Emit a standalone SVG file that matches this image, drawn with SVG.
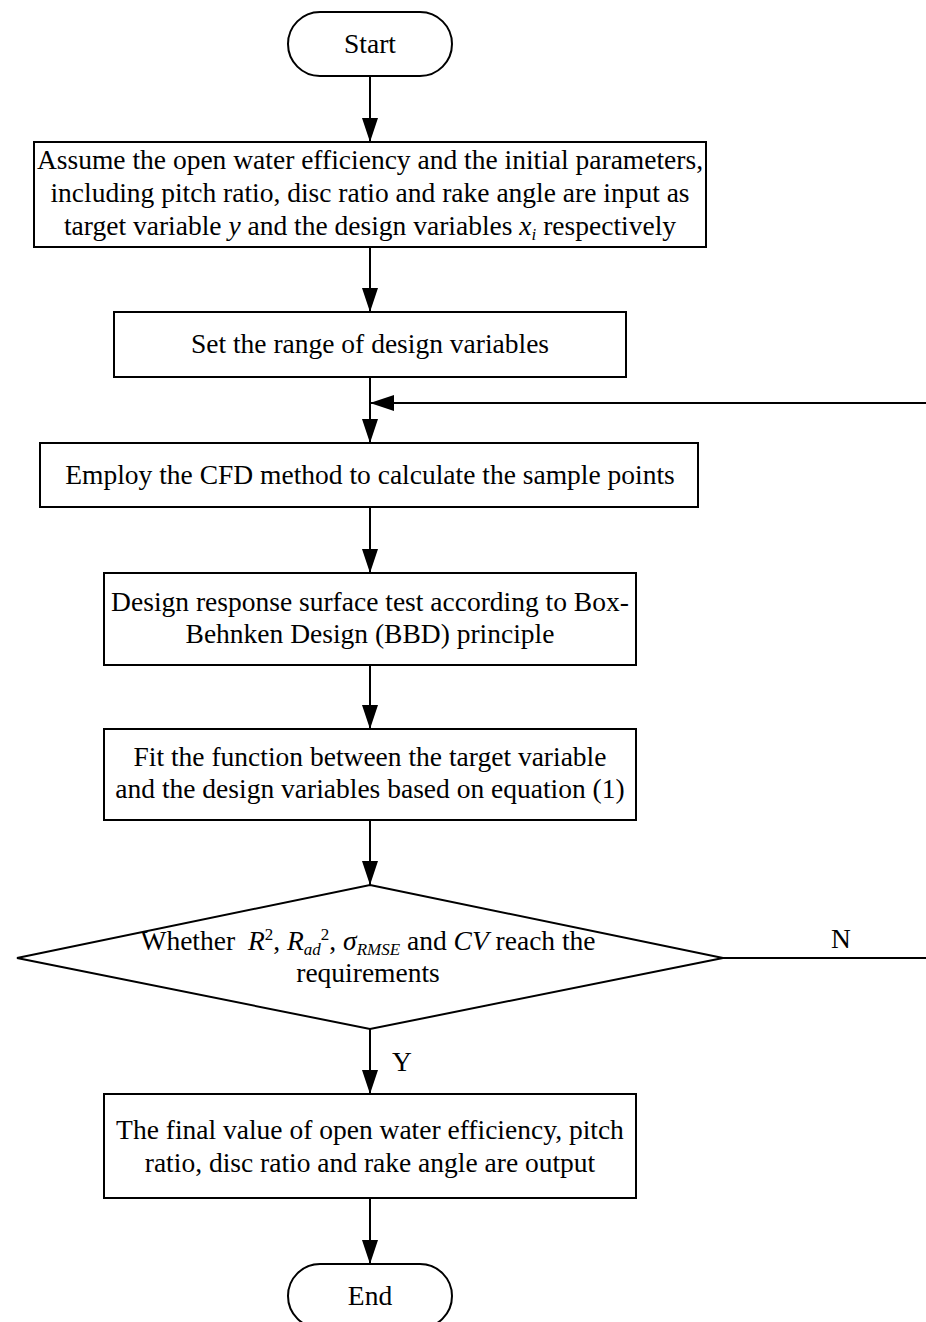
<svg xmlns="http://www.w3.org/2000/svg" width="926" height="1322" viewBox="0 0 926 1322">
<style>
.box{fill:#fff;stroke:#000;stroke-width:2}
.ln{fill:none;stroke:#000;stroke-width:2}
.t{font-family:"Liberation Serif","Times New Roman",serif;font-size:27.5px;fill:#000;text-anchor:middle}
.i{font-style:italic}
.s{font-size:17px}
</style>
<defs>
<marker id="ah" viewBox="0 0 24 16" refX="24" refY="8" markerWidth="24" markerHeight="16" markerUnits="userSpaceOnUse" orient="auto">
<path d="M0,0 L24,8 L0,16 z" fill="#000"/>
</marker>
</defs>
<rect width="926" height="1322" fill="#fff"/>
<g id="connectors">
<line class="ln" x1="370" y1="76" x2="370" y2="142" marker-end="url(#ah)"/>
<line class="ln" x1="370" y1="247" x2="370" y2="312" marker-end="url(#ah)"/>
<line class="ln" x1="370" y1="377" x2="370" y2="443" marker-end="url(#ah)"/>
<line class="ln" x1="926" y1="403" x2="370" y2="403" marker-end="url(#ah)"/>
<line class="ln" x1="370" y1="507" x2="370" y2="573" marker-end="url(#ah)"/>
<line class="ln" x1="370" y1="665" x2="370" y2="729" marker-end="url(#ah)"/>
<line class="ln" x1="370" y1="820" x2="370" y2="885" marker-end="url(#ah)"/>
<line class="ln" x1="723" y1="958" x2="926" y2="958"/>
<text class="t" x="841" y="948">N</text>
<line class="ln" x1="370" y1="1029" x2="370" y2="1094" marker-end="url(#ah)"/>
<text class="t" x="402" y="1071">Y</text>
<line class="ln" x1="370" y1="1198" x2="370" y2="1264" marker-end="url(#ah)"/>
</g>
<g id="start">
<rect class="box" x="288" y="12" width="164" height="64" rx="32"/>
<text class="t" x="370" y="53">Start</text>
</g>
<g id="assume">
<rect class="box" x="34" y="142" width="672" height="105"/>
<text class="t" x="370" y="169">Assume the open water efficiency and the initial parameters,</text>
<text class="t" x="370" y="202">including pitch ratio, disc ratio and rake angle are input as</text>
<text class="t" x="370" y="235">target variable <tspan class="i">y</tspan> and the design variables <tspan class="i">x</tspan><tspan class="i s" dy="5">i</tspan><tspan dy="-5"> respectively</tspan></text>
</g>
<g id="range">
<rect class="box" x="114" y="312" width="512" height="65"/>
<text class="t" x="370" y="353">Set the range of design variables</text>
</g>
<g id="cfd">
<rect class="box" x="40" y="443" width="658" height="64"/>
<text class="t" x="370" y="484">Employ the CFD method to calculate the sample points</text>
</g>
<g id="bbd">
<rect class="box" x="104" y="573" width="532" height="92"/>
<text class="t" x="370" y="611">Design response surface test according to Box-</text>
<text class="t" x="370" y="643">Behnken Design (BBD) principle</text>
</g>
<g id="fit">
<rect class="box" x="104" y="729" width="532" height="91"/>
<text class="t" x="370" y="766">Fit the function  between the target variable</text>
<text class="t" x="370" y="798">and the design variables based on equation (1)</text>
</g>
<g id="decision">
<polygon class="box" points="370,885 723,958 370,1029 17,958"/>
<text class="t" x="368" y="950">Whether <tspan class="i" dx="6">R</tspan><tspan class="s" dy="-10">2</tspan><tspan dy="10">, </tspan><tspan class="i">R</tspan><tspan class="i s" dy="5">ad</tspan><tspan class="s" dy="-15">2</tspan><tspan dy="10">, </tspan><tspan class="i">σ</tspan><tspan class="i s" dy="5">RMSE</tspan><tspan dy="-5"> and </tspan><tspan class="i">CV</tspan> reach the</text>
<text class="t" x="368" y="982">requirements</text>
</g>
<g id="output">
<rect class="box" x="104" y="1094" width="532" height="104"/>
<text class="t" x="370" y="1139">The final value of open water efficiency, pitch</text>
<text class="t" x="370" y="1172">ratio, disc ratio and rake angle are output</text>
</g>
<g id="end">
<rect class="box" x="288" y="1264" width="164" height="64" rx="32"/>
<text class="t" x="370" y="1305">End</text>
</g>
</svg>
